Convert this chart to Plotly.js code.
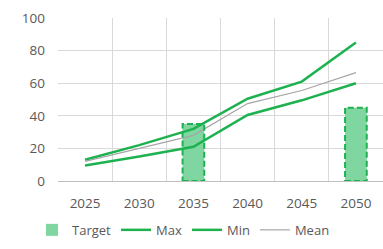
<!DOCTYPE html>
<html><head><meta charset="utf-8">
<script src="https://cdn.plot.ly/plotly-3.0.1.min.js"></script>
<style>html,body{margin:0;padding:0;background:#fff}#c{width:383px;height:249px}</style>
</head><body><div id="c"></div>
<script>
const years = ['2025','2030','2035','2040','2045','2050'];
const target = [null, null, 35, null, null, 45];
const maxVals = [13, 22, 32, 50.5, 61, 85];
const minVals = [9.5, 15, 21, 40.5, 49.5, 60];
const meanVals = [12, 20, 28, 47.5, 55.5, 66.5];

const green = '#1db24f';
const fillGreen = '#80d6a1';
const barW = 0.4;

const traces = [
  {type:'bar', name:'Target', x:years, y:target, width:barW,
   marker:{color:fillGreen, line:{width:0}}},
  {type:'scatter', mode:'lines', name:'Max', x:years, y:maxVals,
   line:{color:green, width:2.5}},
  {type:'scatter', mode:'lines', name:'Min', x:years, y:minVals,
   line:{color:green, width:2.5}},
  {type:'scatter', mode:'lines', name:'Mean', x:years, y:meanVals,
   line:{color:'#a6a6a6', width:1.2}}
];

const shapes = [];
target.forEach((v,i)=>{
  if (v === null) return;
  shapes.push({type:'rect', xref:'x', yref:'y', x0:i-barW/2, x1:i+barW/2, y0:0, y1:v,
    line:{color:green, width:2, dash:'6px,3px'}, fillcolor:'rgba(0,0,0,0)', layer:'above'});
});

const font = {family:'"Open Sans", "DejaVu Sans", sans-serif', size:13.5, color:'#595959'};
const lfont = {family:'"Open Sans", "DejaVu Sans", sans-serif', size:13, color:'#595959'};
const layout = {
  width:383, height:249,
  margin:{l:58, r:0, t:18, b:68},
  paper_bgcolor:'#fff', plot_bgcolor:'#fff',
  font:font,
  showlegend:true,
  barmode:'overlay',
  xaxis:{type:'category', tickson:'boundaries', showgrid:true, gridcolor:'#d9d9d9',
    showline:true, linecolor:'#bfbfbf', ticks:'', tickfont:font, ticklabelstandoff:10,
    automargin:false, fixedrange:true},
  yaxis:{range:[0,100], dtick:20, showgrid:true, gridcolor:'#d9d9d9', zeroline:false,
    showline:false, ticks:'', tickfont:font, ticklabelstandoff:12, automargin:false},
  legend:{orientation:'h', x:-0.08, xanchor:'left', y:-0.3, yanchor:'middle',
    font:lfont, itemwidth:30, traceorder:'normal'},
  shapes:shapes
};
Plotly.newPlot('c', traces, layout, {displayModeBar:false, staticPlot:true});
</script></body></html>
